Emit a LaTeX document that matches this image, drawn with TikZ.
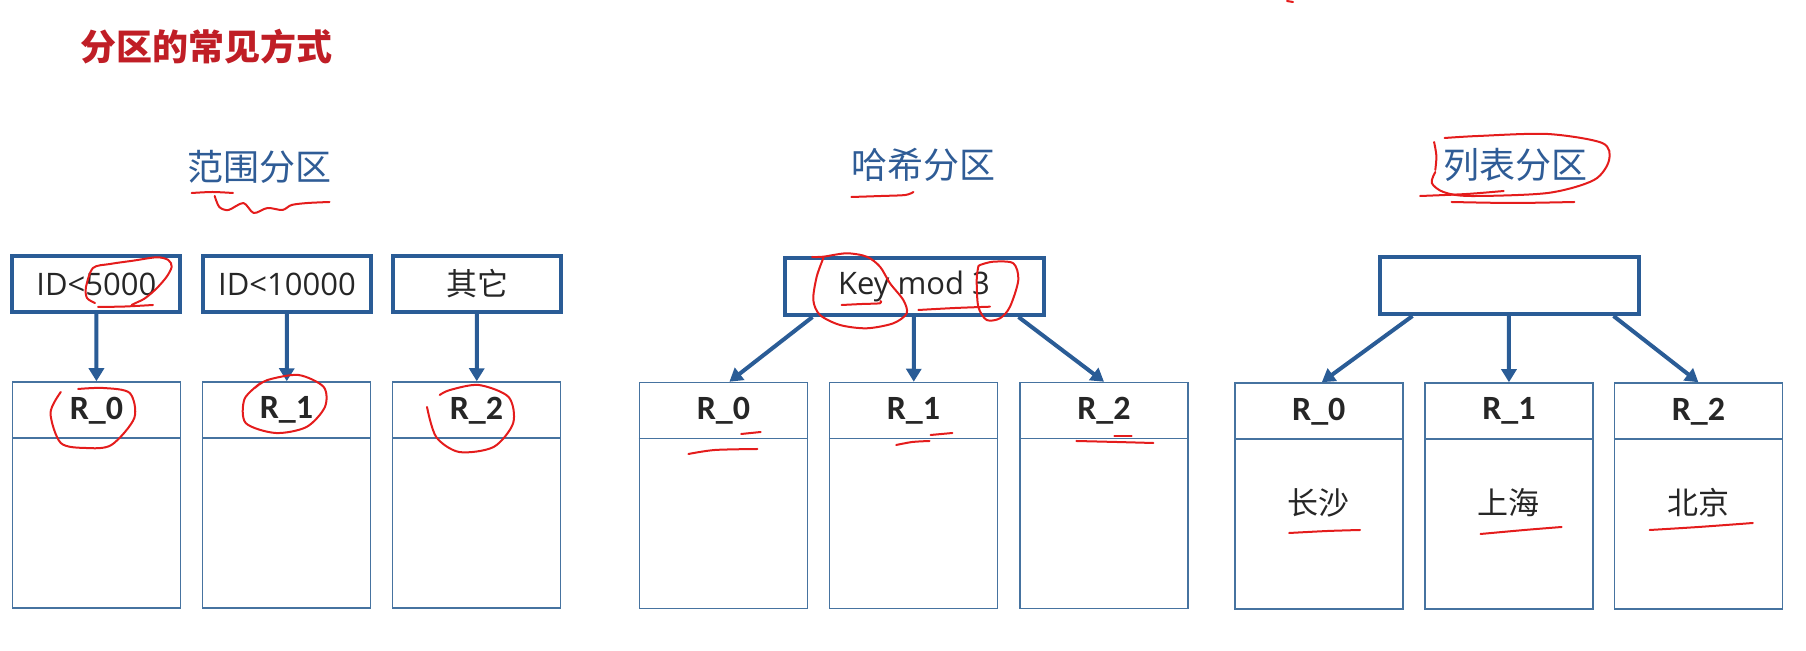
\documentclass[tikz,border=0pt]{standalone}
\usepackage{fontspec}
\setmainfont{Noto Sans CJK SC}
\newfontfamily\latinfont{Open Sans}
\newfontfamily\partfont{Carlito}
\usetikzlibrary{arrows.meta}
\definecolor{boxblue}{RGB}{42,92,150}
\definecolor{lineblue}{RGB}{70,115,160}
\definecolor{headblue}{RGB}{47,92,150}
\definecolor{titlered}{RGB}{192,30,38}
\definecolor{penred}{RGB}{228,28,28}
\tikzset{
  rulebox/.style={draw=boxblue, line width=2pt, inner sep=0pt, minimum width=84pt, minimum height=28pt,
    font=\latinfont\fontsize{15.5}{15.5}\selectfont, text=black!85},
  partbox/.style={draw=lineblue, line width=0.75pt, inner sep=0pt, minimum width=84pt, minimum height=113pt},
  parthead/.style={font=\partfont\bfseries\fontsize{17}{17}\selectfont, text=black!85},
  cityname/.style={font=\fontsize{15.5}{15.5}\selectfont, text=black!85},
  heading/.style={font=\fontsize{18}{18}\selectfont, text=headblue},
  link/.style={draw=boxblue, line width=2pt, -{Triangle[length=6.5pt,width=7.5pt]}},
  pen/.style={draw=penred, line width=1pt, line cap=round, line join=round},
}
\begin{document}
\begin{tikzpicture}[x=0.5pt,y=-0.5pt]
    \useasboundingbox (0,0) rectangle (1806,651);
    \node[anchor=west, font=\bfseries\fontsize{18}{18}\selectfont, text=titlered] (title) at (73,47) {分区的常见方式};
    \node[heading] (range) at (259.5,167) {范围分区};
    \node[heading] (hash) at (923.5,165) {哈希分区};
    \node[heading] (list) at (1515,165) {列表分区};

    \node[rulebox] (t0) at (96.4,284) {ID<5000};
    \node[rulebox] (t1) at (287,284) {ID<10000};
    \node[rulebox, font=\fontsize{15.5}{15.5}\selectfont] (t2) at (477,284) {其它};
    \node[rulebox, minimum width=129.5pt, minimum height=28.5pt] (hk) at (914,286.5) {Key mod 3};
    \node[rulebox, minimum width=129.5pt, minimum height=28.5pt] (lk) at (1509,285.5) {};

    \node[partbox] (r0) at (96.5,495) {};
    \node[partbox] (r1) at (286.5,495) {};
    \node[partbox] (r2) at (476.5,495) {};
    \node[partbox] (h0) at (723.4,495.5) {};
    \node[partbox] (h1) at (913.5,495.5) {};
    \node[partbox] (h2) at (1104,495.5) {};
    \node[partbox] (l0) at (1318.8,496) {};
    \node[partbox] (l1) at (1508.9,496) {};
    \node[partbox] (l2) at (1698.4,496) {};

    \draw[lineblue, line width=0.75pt] ([yshift=-28.5pt]r0.north west) -- ([yshift=-28.5pt]r0.north east);
    \draw[lineblue, line width=0.75pt] ([yshift=-28.5pt]r1.north west) -- ([yshift=-28.5pt]r1.north east);
    \draw[lineblue, line width=0.75pt] ([yshift=-28.5pt]r2.north west) -- ([yshift=-28.5pt]r2.north east);
    \draw[lineblue, line width=0.75pt] ([yshift=-28.5pt]h0.north west) -- ([yshift=-28.5pt]h0.north east);
    \draw[lineblue, line width=0.75pt] ([yshift=-28.5pt]h1.north west) -- ([yshift=-28.5pt]h1.north east);
    \draw[lineblue, line width=0.75pt] ([yshift=-28.5pt]h2.north west) -- ([yshift=-28.5pt]h2.north east);
    \draw[lineblue, line width=0.75pt] ([yshift=-28.5pt]l0.north west) -- ([yshift=-28.5pt]l0.north east);
    \draw[lineblue, line width=0.75pt] ([yshift=-28.5pt]l1.north west) -- ([yshift=-28.5pt]l1.north east);
    \draw[lineblue, line width=0.75pt] ([yshift=-28.5pt]l2.north west) -- ([yshift=-28.5pt]l2.north east);

    \node[parthead] (r0name) at ([yshift=-14.5pt]r0.north) {R\_0};
    \node[parthead] (r1name) at ([yshift=-14.5pt]r1.north) {R\_1};
    \node[parthead] (r2name) at ([yshift=-14.5pt]r2.north) {R\_2};
    \node[parthead] (h0name) at ([yshift=-14.5pt]h0.north) {R\_0};
    \node[parthead] (h1name) at ([yshift=-14.5pt]h1.north) {R\_1};
    \node[parthead] (h2name) at ([yshift=-14.5pt]h2.north) {R\_2};
    \node[parthead] (l0name) at ([yshift=-14.5pt]l0.north) {R\_0};
    \node[parthead] (l1name) at ([yshift=-14.5pt]l1.north) {R\_1};
    \node[parthead] (l2name) at ([yshift=-14.5pt]l2.north) {R\_2};

    \node[cityname] (changsha) at ([yshift=-3.5pt]l0.center) {长沙};
    \node[cityname] (shanghai) at ([yshift=-3.5pt]l1.center) {上海};
    \node[cityname] (beijing) at ([yshift=-3.5pt]l2.center) {北京};

    \draw[link] (t0) -- (r0);
    \draw[link] (t1) -- (r1);
    \draw[link] (t2) -- (r2);
    \draw[link] ([xshift=15pt]hk.south west) -- ([xshift=3pt]h0.north);
    \draw[link] (hk) -- (h1);
    \draw[link] ([xshift=-13.5pt]hk.south east) -- (h2.north);
    \draw[link] ([xshift=17.5pt]lk.south west) -- ([xshift=1.5pt]l0.north);
    \draw[link] (lk) -- (l1);
    \draw[link] ([xshift=-13.5pt]lk.south east) -- (l2.north);

    \draw[pen] plot[smooth] coordinates {(191.7,193) (212.4,192) (233,193)};
    \draw[pen] plot[smooth] coordinates {(214.7,196) (219.3,207) (228.5,210) (243.4,203) (253.7,213) (267.5,208) (282.4,210) (291.6,205) (307.7,203) (329.5,202)};
    \draw[pen] plot[smooth] coordinates {(95,303) (87,298) (86,287) (93,268) (110,264) (133,260.7) (156.7,257.3) (168.3,260) (171.7,266.7) (166.7,276.7) (156.7,288.3) (145,298.3) (135,303.3) (131.7,305)};
    \draw[pen] plot[smooth] coordinates {(98,307) (125,306.5) (153,305)};
    \draw[pen] plot[smooth] coordinates {(60.8,392) (50.5,413) (60.8,443) (86.1,448) (111.4,445) (134.3,418) (129.7,393) (103.3,388) (78.1,389)};
    \draw[pen] plot[smooth] coordinates {(260.6,383) (244.5,399) (245.7,423) (275.5,433) (306.5,427) (324.9,407) (323.7,387) (298.5,375) (267.5,380) (254.9,388)};
    \draw[pen] plot[smooth] coordinates {(427,407) (436.2,437) (459.2,452) (493.6,447) (513.2,423) (508.6,397) (478.7,385) (450,390) (439.7,395)};

    \draw[pen] plot[smooth] coordinates {(851.4,197) (881.3,196) (905.4,195) (913.4,192)};
    \draw[pen] plot[smooth] coordinates {(812,257) (823.3,256.7) (846.7,253.3) (866.7,256.7) (880,266.7) (890,283.3) (903.3,300) (906.7,313.3) (893.3,323.3) (866.7,328.3) (840,325) (820,315) (813.3,300) (816.7,276.7) (823.3,258.3)};
    \draw[pen] plot[smooth] coordinates {(841.7,305) (862,304) (880,303.3) (880.5,301)};
    \draw[pen] plot[smooth] coordinates {(918.3,310) (955,308) (990,306.7)};
    \draw[pen] plot[smooth] coordinates {(978.3,266.7) (980,265) (993.3,261.7) (1013.3,263.3) (1018.3,280) (1010,306.7) (1000,318.3) (986.7,320) (978.3,306.7) (976.7,280) (978.3,266.7)};
    \draw[pen] (741.2,434) -- (760.7,432);
    \draw[pen] plot[smooth] coordinates {(688.4,454) (714.8,450) (757.3,449)};
    \draw[pen] (930.6,435) -- (952.4,433);
    \draw[pen] plot[smooth] coordinates {(896.2,445) (912.3,442) (929.5,441)};
    \draw[pen] (1114.3,436) -- (1131.5,436);
    \draw[pen] plot[smooth] coordinates {(1076.4,441) (1116.6,442) (1153.3,443)};

    \draw[pen] plot[smooth] coordinates {(1434.1,142) (1436.4,156) (1435.3,170)};
    \draw[pen] plot[smooth] coordinates {(1435.3,172) (1431.8,183) (1443.4,192) (1470,196) (1547.7,193) (1594,180) (1609.1,160) (1602.2,143) (1547.7,134) (1478.2,136) (1444.6,138)};
    \draw[pen] plot[smooth] coordinates {(1420.2,196) (1466.6,194) (1503.7,191)};
    \draw[pen] plot[smooth] coordinates {(1451.5,202) (1512.9,203) (1574.4,202)};
    \draw[pen] plot[smooth] coordinates {(1289.2,533) (1327.5,531) (1360,530)};
    \draw[pen] plot[smooth] coordinates {(1480.5,534) (1524.5,530) (1561.6,527)};
    \draw[pen] plot[smooth] coordinates {(1649.7,530) (1698.4,527) (1752.8,523)};
    \draw[pen] (1287,1) -- (1293,2);
\end{tikzpicture}
\end{document}
